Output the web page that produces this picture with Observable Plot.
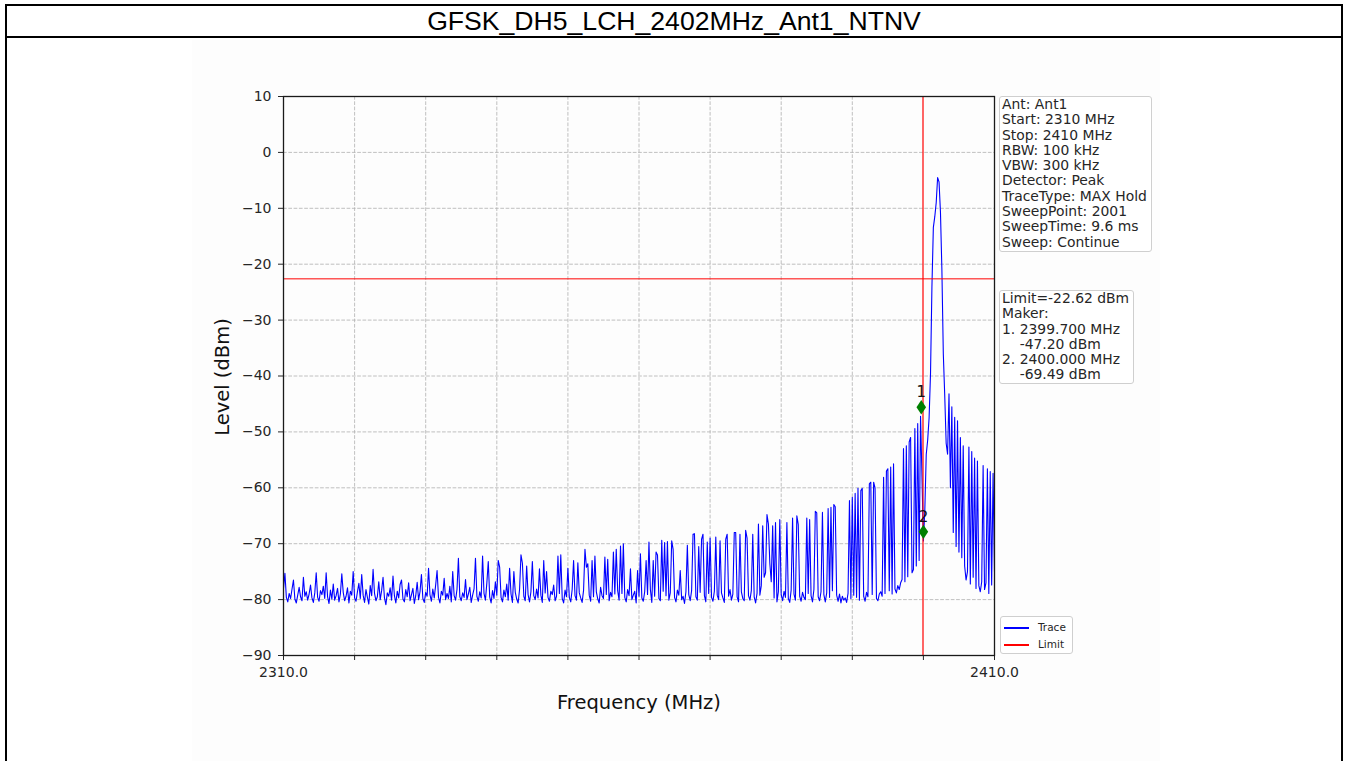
<!DOCTYPE html>
<html>
<head>
<meta charset="utf-8">
<script src="https://cdn.jsdelivr.net/npm/d3@7"></script>
<script src="https://cdn.jsdelivr.net/npm/@observablehq/plot@0.6"></script>
<style>
  html, body { margin: 0; padding: 0; background: #fff; }
  body { width: 1346px; height: 761px; overflow: hidden; position: relative; font-family: "DejaVu Sans", sans-serif; }
  #outer { position: absolute; left: 5px; top: 4px; width: 1334px; height: 800px; border: 2px solid #000; }
  #title { position: absolute; left: 7px; top: 6px; width: 1334px; height: 30px; border-bottom: 2px solid #000;
           text-align: center; font-family: "Liberation Sans", Arial, sans-serif; font-size: 26.6px; line-height: 31px; color: #000; }
  #figbg { position: absolute; left: 192px; top: 40px; width: 968px; height: 721px; background: #fdfdfd; }
  #chart { position: absolute; left: 0; top: 0; }
  #ylab { position: absolute; left: 222px; top: 377px; transform: translate(-50%, -50%) rotate(-90deg);
          font-size: 19.5px; white-space: nowrap; color: #111; }
  .box { position: absolute; border: 1px solid #cfcfcf; border-radius: 3px; background: rgba(255,255,255,0.9);
         font-size: 13.9px; line-height: 15.3px; white-space: pre; padding: 0 2px; color: #262626; box-sizing: border-box; }
  #legend { position: absolute; left: 1000px; top: 616px; width: 73px; height: 38px; border: 1px solid #cfcfcf; border-radius: 3px;
            background: rgba(255,255,255,0.9); box-sizing: border-box; font-size: 10.5px; color: #262626; }
  #legend .row { position: absolute; left: 3px; height: 17px; line-height: 17px; white-space: nowrap; }
  #legend .sw { display: inline-block; width: 25px; height: 1.5px; vertical-align: middle; margin-right: 9px; }
</style>
</head>
<body>
<div id="outer"></div>
<div id="title"></div>
<div id="figbg"></div>
<div id="chart"></div>
<div id="ylab"></div>
<div class="box" id="info" style="left:999px; top:96px; width:153px; height:156px;"></div>
<div class="box" id="mk" style="left:999px; top:290px; width:135px; height:94px;"></div>
<div id="legend"></div>
<script>
// ---- Data ----
const chartTitle = "GFSK_DH5_LCH_2402MHz_Ant1_NTNV";
const freqStart = 2310;      // MHz
const freqStop = 2410;       // MHz
const freqStep = 0.2;        // MHz between plotted sweep samples
// Trace levels (dBm), one per 0.2 MHz from 2310.0 to 2410.0 (501 values)
const levels = [
  // 2310.0 - 2314.8
  -78.0,-75.3,-79.6,-80.4,-78.9, -79.8,-78.1,-76.5,-79.9,-80.6, -79.2,-77.8,-79.5,-80.2,-76.0, -79.4,-78.6,-80.1,-79.0,-77.4, -79.7,-80.5,-78.8,-75.2,-79.6,
  // 2315.0 - 2319.8
  -80.3,-78.4,-79.1,-77.6,-79.8, -75.2,-79.5,-80.7,-78.3,-79.9, -77.2,-80.1,-79.3,-78.0,-80.4, -79.0,-75.4,-78.7,-80.2,-79.4, -77.9,-80.6,-78.5,-79.2,-75.0,
  // 2320.0 - 2324.8
  -79.7,-80.3,-78.6,-77.1,-79.8, -75.5,-79.2,-80.5,-78.2,-79.6, -80.8,-77.5,-79.3,-74.6,-78.9, -80.2,-79.5,-76.8,-80.0,-78.4, -76.0,-79.7,-80.9,-78.8,-79.4,
  // 2325.0 - 2329.8
  -77.9,-80.1,-75.8,-79.3,-80.6, -78.5,-79.7,-77.3,-76.5,-79.9, -80.4,-78.2,-79.5,-77.0,-80.2, -79.1,-78.0,-80.7,-79.3,-76.9, -80.0,-78.6,-75.5,-79.8,-80.5,
  // 2330.0 - 2334.8
  -78.7,-79.4,-74.4,-79.1,-80.3, -78.1,-79.7,-77.4,-74.8,-79.6, -80.6,-78.5,-79.2,-76.2,-80.0, -78.9,-79.8,-77.6,-80.4,-75.0, -79.3,-80.1,-78.2,-72.6,-79.5,
  // 2335.0 - 2339.8
  -80.2,-78.8,-79.6,-76.4,-80.0, -79.0,-77.8,-80.5,-79.2,-78.1, -72.6,-79.4,-80.3,-78.6,-79.7, -72.2,-78.9,-80.1,-77.0,-73.2, -79.5,-80.6,-78.4,-79.8,-76.8,
  // 2340.0 - 2344.8
  -79.2,-73.0,-74.2,-79.6,-80.4, -78.3,-79.5,-77.2,-80.1,-74.4, -79.0,-80.5,-75.0,-78.7,-79.9, -80.6,-78.2,-72.0,-73.5,-79.4, -80.2,-74.0,-79.1,-80.4,-78.6,
  // 2345.0 - 2349.8
  -73.2,-79.3,-80.0,-78.1,-79.7, -74.5,-79.2,-80.5,-73.0,-78.8, -75.0,-79.6,-80.3,-78.5,-79.1, -77.4,-80.2,-79.4,-72.2,-78.9, -72.0,-79.8,-80.6,-78.3,-79.5,
  // 2350.0 - 2354.8
  -74.4,-79.6,-80.4,-78.2,-73.0, -79.3,-80.1,-73.4,-78.8,-79.7, -80.5,-78.4,-71.0,-74.2,-73.6, -79.2,-80.3,-73.0,-79.5,-72.2, -78.6,-79.9,-80.6,-77.8,-79.3,
  // 2355.0 - 2359.8
  -79.8,-72.4,-79.1,-72.8,-80.2, -78.7,-79.5,-71.5,-79.0,-71.0, -78.4,-80.1,-70.4,-78.9,-70.0, -79.6,-80.4,-78.2,-79.3,-74.5, -80.0,-79.2,-78.5,-80.6,-74.8,
  // 2360.0 - 2364.8
  -79.4,-71.8,-79.7,-80.3,-78.6, -73.0,-79.1,-69.7,-78.2,-80.5, -73.0,-79.4,-71.5,-72.0,-79.8, -80.2,-69.4,-78.5,-69.8,-79.3, -69.6,-80.1,-78.8,-69.5,-71.0,
  // 2365.0 - 2369.8
  -79.6,-80.4,-78.3,-79.2,-74.8, -80.0,-79.4,-80.7,-78.6,-70.3, -79.1,-80.2,-78.4,-68.3,-68.2, -79.5,-80.1,-70.5,-78.7,-69.2, -68.3,-79.3,-80.4,-69.7,-78.9,
  // 2370.0 - 2374.8
  -69.0,-79.6,-80.3,-78.5,-68.8, -79.2,-80.0,-69.5,-78.8,-79.7, -80.5,-69.2,-68.3,-79.4,-78.2, -80.1,-79.0,-68.0,-68.0,-79.5, -80.4,-68.3,-78.6,-79.8,-80.2,
  // 2375.0 - 2379.8
  -67.6,-69.0,-79.3,-80.1,-78.4, -68.3,-79.5,-80.6,-78.9,-66.5, -79.2,-77.5,-66.8,-76.0,-75.2, -64.8,-66.5,-73.5,-76.8,-66.8, -79.7,-66.2,-80.4,-78.6,-65.7,
  // 2380.0 - 2384.8
  -79.1,-80.2,-78.5,-79.6,-66.2, -79.8,-80.5,-78.3,-65.4,-79.0, -80.1,-65.0,-66.6,-79.4,-80.3, -78.7,-79.6,-80.0,-65.4,-78.9, -65.7,-79.3,-80.4,-78.2,-64.2,
  // 2385.0 - 2389.8
  -64.5,-79.5,-80.2,-78.6,-64.4, -79.1,-80.4,-78.8,-63.7,-79.6, -63.5,-78.4,-63.0,-63.4,-79.2, -80.3,-79.0,-80.6,-79.4,-80.1, -79.7,-80.5,-78.9,-62.3,-79.8,
  // 2390.0 - 2394.8
  -61.7,-79.2,-61.0,-79.6,-60.1, -80.1,-60.5,-60.1,-79.4,-80.3, -78.7,-79.5,-59.3,-59.0,-79.1, -59.0,-60.0,-79.8,-80.2,-79.0, -78.6,-79.4,-58.1,-78.9,-57.0,
  // 2395.0 - 2399.8
  -56.6,-78.4,-56.3,-79.0,-55.7, -78.1,-78.8,-77.5,-78.2,-77.0, -76.4,-53.0,-76.8,-52.5,-75.9, -51.8,-51.0,-75.2,-74.6,-49.4, -74.0,-48.5,-73.0,-47.2,-58.0,
  // 2400.0 - 2404.8
  -69.5,-64.0,-54.0,-51.5,-47.5, -39.6,-24.0,-13.4,-11.5,-9.0, -4.5,-5.3,-10.7,-21.0,-36.0, -43.5,-52.0,-54.0,-43.2,-60.0, -45.5,-68.0,-47.4,-70.5,-48.0,
  // 2405.0 - 2409.8
  -71.5,-51.0,-72.5,-52.5,-74.0, -76.5,-75.0,-52.7,-77.2,-53.5, -76.0,-54.7,-78.0,-55.2,-77.5, -78.6,-76.8,-56.0,-78.2,-77.0, -56.6,-78.9,-57.1,-77.4,-57.4,
  // 2410.0
  -75.0
];
const limitLevel = -22.62;       // dBm
const limitFreq = 2400;          // MHz (band edge)
const markerFreqs = [2399.7, 2400.0];
const markerLevels = [-47.20, -69.49];
const markerNames = ["1", "2"];
const xTicks = [2310, 2320, 2330, 2340, 2350, 2360, 2370, 2380, 2390, 2400, 2410];
const xTickLabels = ["2310.0", "", "", "", "", "", "", "", "", "", "2410.0"];
const yTicks = [-90, -80, -70, -60, -50, -40, -30, -20, -10, 0, 10];
const infoLines = ["Ant: Ant1", "Start: 2310 MHz", "Stop: 2410 MHz", "RBW: 100 kHz", "VBW: 300 kHz",
  "Detector: Peak", "TraceType: MAX Hold", "SweepPoint: 2001", "SweepTime: 9.6 ms", "Sweep: Continue"];
const markerLines = ["Limit=-22.62 dBm", "Maker:", "1. 2399.700 MHz", "    -47.20 dBm", "2. 2400.000 MHz", "    -69.49 dBm"];
const legendNames = ["Trace", "Limit"];
const legendColors = ["#0000ff", "#ff0000"];
const xLabel = "Frequency (MHz)";
const yLabel = "Level (dBm)";

// ---- Build tables ----
const trace = levels.map((v, i) => ({freq: freqStart + i * freqStep, level: v}));
const markers = markerFreqs.map((f, i) => ({freq: f, level: markerLevels[i], name: markerNames[i]}));
const xLabelMap = new Map(xTicks.map((t, i) => [t, xTickLabels[i]]));
const gridX = xTicks.filter(t => t !== limitFreq);

const thinDiamond = {
  draw(ctx, size) {
    const h = Math.sqrt(size);
    ctx.moveTo(0, -0.78 * h);
    ctx.lineTo(0.52 * h, 0);
    ctx.lineTo(0, 0.78 * h);
    ctx.lineTo(-0.52 * h, 0);
    ctx.closePath();
  }
};

document.getElementById("title").textContent = chartTitle;
document.getElementById("ylab").textContent = yLabel;
document.getElementById("info").textContent = infoLines.join("\n");
document.getElementById("mk").textContent = markerLines.join("\n");
const lg = document.getElementById("legend");
legendNames.forEach((n, i) => {
  const r = document.createElement("div");
  r.className = "row";
  r.style.top = (2 + i * 17) + "px";
  const sw = document.createElement("span");
  sw.className = "sw";
  sw.style.background = legendColors[i];
  r.appendChild(sw);
  r.appendChild(document.createTextNode(n));
  lg.appendChild(r);
});

const chart = Plot.plot({
  width: 1346,
  height: 761,
  marginTop: 96,
  marginLeft: 283,
  marginRight: 352,
  marginBottom: 106,
  style: {fontFamily: "DejaVu Sans, sans-serif", fontSize: "14px", background: "transparent", color: "#262626", overflow: "visible"},
  x: {domain: [freqStart, freqStop], ticks: xTicks, tickFormat: d => xLabelMap.get(d) ?? "", tickSize: 5, tickPadding: 7, label: null},
  y: {domain: [-90, 10], ticks: yTicks, tickFormat: d => d < 0 ? "\u2212" + Math.abs(d) : String(d), tickSize: 5, tickPadding: 7, label: null},
  marks: [
    Plot.ruleX(gridX, {stroke: "#b0b0b0", strokeWidth: 0.8, strokeDasharray: "3.7,1.6"}),
    Plot.ruleY(yTicks, {stroke: "#b0b0b0", strokeWidth: 0.8, strokeDasharray: "3.7,1.6"}),
    Plot.line(trace, {x: "freq", y: "level", stroke: legendColors[0], strokeWidth: 1.1}),
    Plot.ruleY([limitLevel], {stroke: legendColors[1], strokeWidth: 1}),
    Plot.ruleX([limitFreq], {stroke: legendColors[1], strokeWidth: 1.2, dx: -0.4}),
    Plot.dot(markers, {x: "freq", y: "level", symbol: thinDiamond, r: 5.2, fill: "#008000", stroke: "none", dy: -9}),
    Plot.text(markers, {x: "freq", y: "level", text: "name", dy: -24, fontSize: 15, fill: "#111"}),
    Plot.frame({stroke: "#1a1a1a", strokeWidth: 1.3}),
    Plot.text([xLabel], {text: d => d, frameAnchor: "bottom", dy: 53, fontSize: 19.5, fill: "#111"})
  ]
});
document.getElementById("chart").appendChild(chart);
</script>
</body>
</html>
